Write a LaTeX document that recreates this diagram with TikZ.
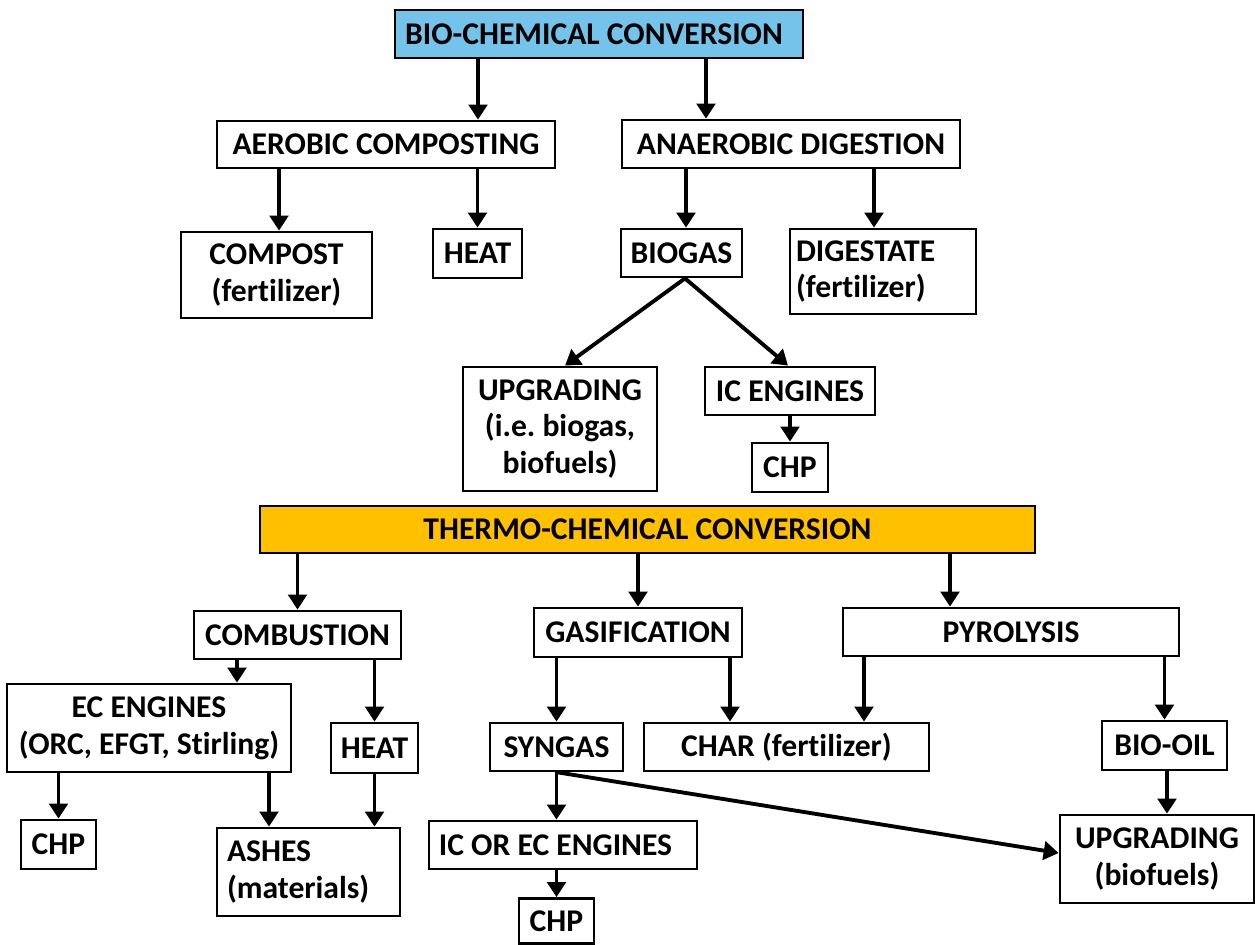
\documentclass[tikz,border=0pt]{standalone}
\usepackage{fontspec}
\setmainfont{Carlito}[Ligatures=NoCommon]
\usetikzlibrary{arrows.meta}
\definecolor{cblue}{HTML}{74C3EA}
\definecolor{cgold}{HTML}{FFC000}
\frenchspacing

\begin{document}
\begin{tikzpicture}[x=0.02cm,y=-0.02cm,
    box/.style={draw,line width=1.6pt,fill=white,inner sep=0pt,align=center,
      font=\bfseries\fontsize{18}{21}\selectfont},
    arr/.style={-{Triangle[width=10.5pt,length=8.5pt]},line width=2.2pt}]
  \useasboundingbox (0,0) rectangle (1255,945);
  % bio-chemical branch
  \node[box,fill=cblue,minimum width=8.16cm,minimum height=0.96cm] (bio) at (599,34) {BIO-CHEMICAL CONVERSION\hspace*{0.2cm}};
  \node[box,minimum width=6.76cm,minimum height=0.94cm] (aerobic) at (386,144.5) {AEROBIC COMPOSTING};
  \node[box,minimum width=6.76cm,minimum height=0.96cm] (anaerobic) at (791,144) {ANAEROBIC DIGESTION};
  \node[box,minimum width=3.82cm,minimum height=1.72cm] (compost) at (276.5,275) {COMPOST\\(fertilizer)};
  \node[box,minimum width=1.78cm,minimum height=0.98cm] (heatA) at (477.5,253.5) {HEAT};
  \node[box,minimum width=2.42cm,minimum height=0.96cm] (biogas) at (681.5,253) {BIOGAS};
  \node[box,align=left,inner xsep=0.12cm,text width=3.48cm,minimum height=1.7cm] (digestate) at (883,271.5) {DIGESTATE\\(fertilizer)};
  \node[box,minimum width=3.88cm,minimum height=2.48cm] (upgradeA) at (560,429) {UPGRADING\\(i.e. biogas,\\biofuels)};
  \node[box,minimum width=3.4cm,minimum height=0.96cm] (icengines) at (790,391) {IC ENGINES};
  \node[box,minimum width=1.52cm,minimum height=0.98cm] (chpA) at (790,467.5) {CHP};
  % thermo-chemical branch
  \node[box,fill=cgold,minimum width=15.5cm,minimum height=0.94cm] (thermo) at (647.5,529.5) {THERMO-CHEMICAL CONVERSION};
  \node[box,minimum width=4.14cm,minimum height=0.96cm] (combustion) at (297.5,635) {COMBUSTION};
  \node[box,minimum width=4.16cm,minimum height=0.98cm] (gasif) at (638,632.5) {GASIFICATION};
  \node[box,minimum width=6.72cm,minimum height=0.96cm] (pyrolysis) at (1011,632) {PYROLYSIS};
  \node[box,minimum width=5.68cm,minimum height=1.76cm] (ecengines) at (149,728) {EC ENGINES\\(ORC, EFGT, Stirling)};
  \node[box,minimum width=1.74cm,minimum height=1cm] (heatB) at (374.5,748) {HEAT};
  \node[box,minimum width=1.5cm,minimum height=0.98cm] (chpB) at (58.5,844.5) {CHP};
  \node[box,align=left,inner xsep=0.2cm,text width=3.26cm,minimum height=1.76cm] (ashes) at (308.5,872) {ASHES\\(materials)};
  \node[box,minimum width=2.66cm,minimum height=0.96cm] (syngas) at (556.5,747) {SYNGAS};
  \node[box,minimum width=5.7cm,minimum height=0.96cm] (char) at (786.5,747) {CHAR (fertilizer)};
  \node[box,minimum width=2.5cm,minimum height=0.98cm] (biooil) at (1164.5,745.5) {BIO-OIL};
  \node[box,minimum width=3.88cm,minimum height=1.76cm] (upgradeB) at (1157,859) {UPGRADING\\(biofuels)};
  \node[box,minimum width=5.36cm,minimum height=0.96cm] (icec) at (563,845) {IC OR EC ENGINES\hspace*{0.3cm}};
  \node[box,minimum width=1.5cm,minimum height=0.9cm] (chpC) at (556.5,921) {CHP};
  % arrows, upper part
  \draw[arr] (bio.south -| 478,0) -- (aerobic.north -| 478,0);
  \draw[arr] (bio.south -| 706,0) -- (anaerobic.north -| 706,0);
  \draw[arr] (aerobic.south -| 279,0) -- (compost.north -| 279,0);
  \draw[arr] (aerobic.south -| heatA.north) -- (heatA.north);
  \draw[arr] (anaerobic.south -| 686,0) -- (biogas.north -| 686,0);
  \draw[arr] (anaerobic.south -| 874,0) -- (digestate.north -| 874,0);
  \draw[arr] (biogas.south -| 685,0) -- (upgradeA.north -| 565,0);
  \draw[arr] (biogas.south -| 685,0) -- (icengines.north -| 788,0);
  \draw[arr] (icengines.south) -- (chpA.north);
  % arrows, lower part
  \draw[arr] (thermo.south -| combustion.north) -- (combustion.north);
  \draw[arr] (thermo.south -| gasif.north) -- (gasif.north);
  \draw[arr] (thermo.south -| 950,0) -- (pyrolysis.north -| 950,0);
  \draw[arr] (combustion.south -| 237,0) -- (ecengines.north -| 237,0);
  \draw[arr] (combustion.south -| heatB.north) -- (heatB.north);
  \draw[arr] (ecengines.south -| chpB.north) -- (chpB.north);
  \draw[arr] (ecengines.south -| 269,0) -- (ashes.north -| 269,0);
  \draw[arr] (heatB.south) -- (ashes.north -| heatB.south);
  \draw[arr] (gasif.south -| syngas.north) -- (syngas.north);
  \draw[arr] (gasif.south -| 730,0) -- (char.north -| 730,0);
  \draw[arr] (pyrolysis.south -| 864,0) -- (char.north -| 864,0);
  \draw[arr] (pyrolysis.south -| biooil.north) -- (biooil.north);
  \draw[arr] (biooil.south -| 1167,0) -- (upgradeB.north -| 1167,0);
  \draw[arr] (syngas.south) -- (icec.north -| syngas.south);
  \draw[arr] (icec.south -| chpC.north) -- (chpC.north);
  \draw[arr] (syngas.south -| 558,0) -- (upgradeB.west |- 0,853);
\end{tikzpicture}
\end{document}
